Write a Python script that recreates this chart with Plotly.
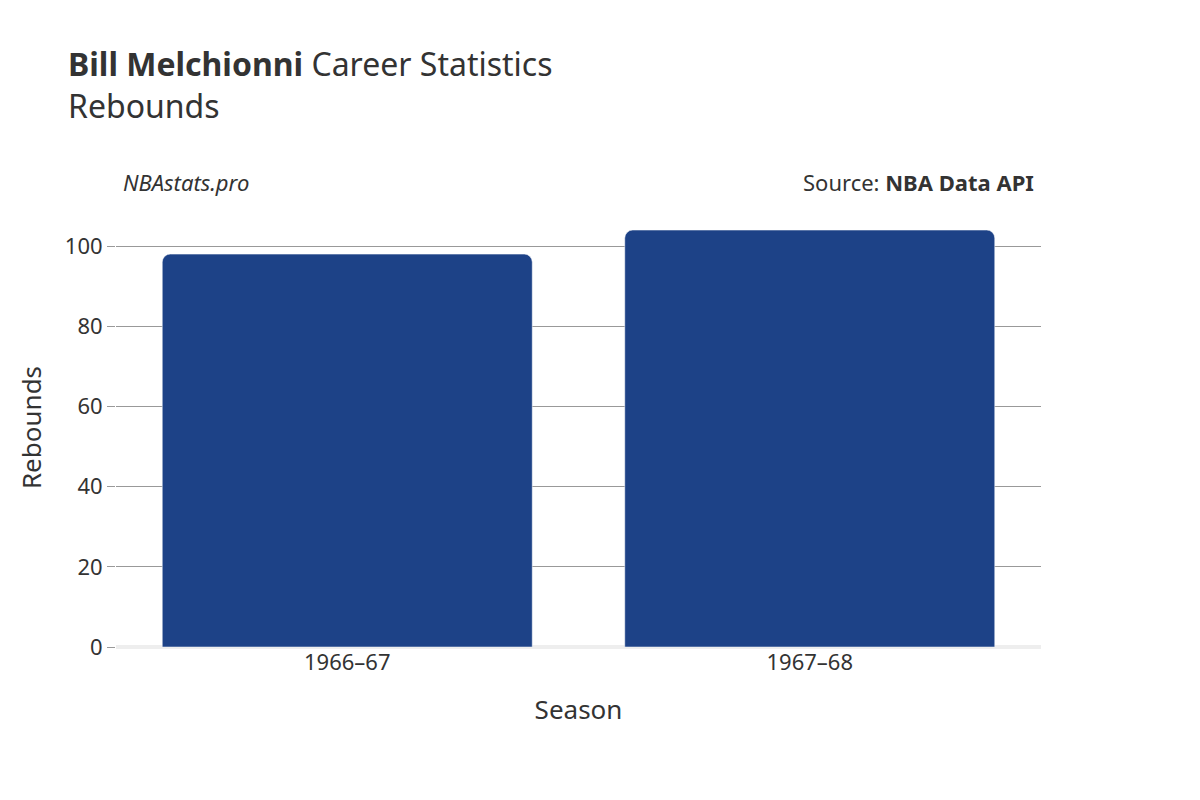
import plotly.graph_objects as go

seasons = ["1966–67", "1967–68"]
rebounds = [98, 104]
team = "PHL"

fig = go.Figure()
fig.add_trace(go.Bar(x=seasons, y=rebounds, name=team, marker_color="#1d4287", width=0.8))

fig.update_layout(
    width=1200, height=800,
    template="simple_white",
    font=dict(family="Noto Sans", size=22, color="#333"),
    title=dict(text="<b>Bill Melchionni</b> Career Statistics<br>Rebounds",
               x=0.05, y=0.915, font=dict(size=32)),
    margin=dict(l=108, r=167, t=200, b=161),
    barcornerradius=8,
    legend=dict(title=dict(text="Team", font=dict(size=26)), x=1.02, y=1.0, font=dict(size=22)),
    bargap=0.2,
    annotations=[
        dict(text="<i>NBAstats.pro</i>", x=0.005, y=1.02, xref="paper", yref="paper",
             xanchor="left", yanchor="bottom", showarrow=False, font=dict(size=22)),
        dict(text="Source: <b>NBA Data API</b>", x=0.995, y=1.02, xref="paper", yref="paper",
             xanchor="right", yanchor="bottom", showarrow=False, font=dict(size=22)),
    ],
)
fig.update_xaxes(title_text="Season", showline=False, ticks="", title_standoff=25)
fig.update_yaxes(title_text="Rebounds", range=[0, 109.5], showline=False, ticks="outside",
                 tickcolor="#999", ticklen=8, showgrid=True, gridcolor="#999",
                 zeroline=True, zerolinecolor="#eee", zerolinewidth=4, tickvals=[0, 20, 40, 60, 80, 100])

fig.write_html("out.html")
